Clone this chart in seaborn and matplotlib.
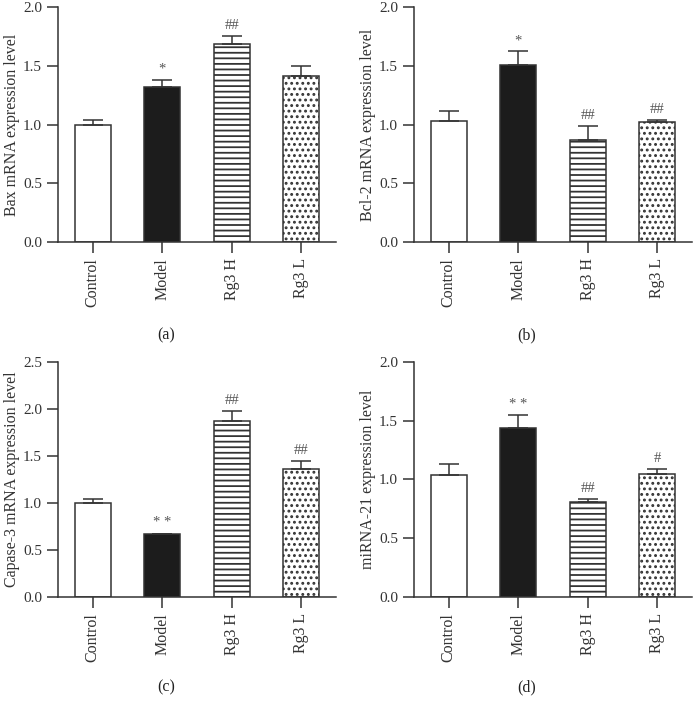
import numpy as np
import matplotlib
matplotlib.use("Agg")
import matplotlib.pyplot as plt
import seaborn as sns

# Groups shared by the four panels
groups = ["Control", "Model", "Rg3 H", "Rg3 L"]

# (a) Bax mRNA
bax_mean = [1.00, 1.315, 1.683, 1.41]
bax_err = [0.04, 0.065, 0.068, 0.09]
bax_sig = ["", "*", "##", ""]

# (b) Bcl-2 mRNA
bcl2_mean = [1.027, 1.505, 0.866, 1.018]
bcl2_err = [0.088, 0.119, 0.124, 0.023]
bcl2_sig = ["", "*", "##", "##"]

# (c) Capase-3 mRNA
casp3_mean = [1.004, 0.665, 1.874, 1.358]
casp3_err = [0.039, 0.01, 0.103, 0.088]
casp3_sig = ["", "* *", "##", "##"]

# (d) miRNA-21
mir21_mean = [1.038, 1.44, 0.809, 1.044]
mir21_err = [0.091, 0.107, 0.028, 0.048]
mir21_sig = ["", "* *", "##", "#"]

ylabels = ["Bax mRNA expression level", "Bcl-2 mRNA expression level",
           "Capase-3 mRNA expression level", "miRNA-21 expression level"]
ymaxes = [2.0, 2.0, 2.5, 2.0]
panel_tags = ["(a)", "(b)", "(c)", "(d)"]

fills = ["white", "#1c1c1c", "white", "white"]
hatches = ["", "", "---", "..."]
ink = "#333333"

sns.set_theme(style="ticks")
plt.rcParams["font.family"] = ["Liberation Serif", "DejaVu Serif"]
plt.rcParams["hatch.color"] = ink
plt.rcParams["hatch.linewidth"] = 1.3
plt.rcParams["axes.edgecolor"] = ink
plt.rcParams["xtick.color"] = ink
plt.rcParams["ytick.color"] = ink
plt.rcParams["axes.labelcolor"] = ink

fig = plt.figure(figsize=(6.93, 7.09), dpi=100)

# axes boxes [left, bottom, width, height] in figure fraction
boxes = [
    [0.0837, 0.6587, 0.4011, 0.3314],
    [0.5974, 0.6587, 0.4011, 0.3314],
    [0.0837, 0.1580, 0.4011, 0.3314],
    [0.5974, 0.1580, 0.4011, 0.3314],
]
tag_pos = [(0.240, 0.527), (0.760, 0.527), (0.240, 0.031), (0.760, 0.031)]

panels = [
    (bax_mean, bax_err, bax_sig),
    (bcl2_mean, bcl2_err, bcl2_sig),
    (casp3_mean, casp3_err, casp3_sig),
    (mir21_mean, mir21_err, mir21_sig),
]

for i, (means, errs, sigs) in enumerate(panels):
    ax = fig.add_axes(boxes[i])
    sns.barplot(x=groups, y=means, hue=groups, palette=fills, legend=False,
                width=0.52, edgecolor=ink, linewidth=1.1, saturation=1, ax=ax)
    for patch, h in zip(ax.patches, hatches):
        patch.set_hatch(h)
    xs = np.arange(len(groups))
    ax.errorbar(xs, means, yerr=[np.zeros(len(errs)), errs], fmt="none",
                ecolor=ink, elinewidth=1.1, capsize=7.5, capthick=1.1, zorder=1)
    for x, m, e, s in zip(xs, means, errs, sigs):
        if s:
            ax.text(x, m + e + 0.045 * ymaxes[i], s, ha="center", va="center",
                    fontsize=10.5, color="#555555")
    ax.set_xlim(-0.5, 3.5)
    ax.set_ylim(0, ymaxes[i])
    ax.set_yticks(np.arange(0, ymaxes[i] + 0.01, 0.5))
    ax.set_yticklabels([f"{v:.1f}" for v in np.arange(0, ymaxes[i] + 0.01, 0.5)])
    ax.set_ylabel(ylabels[i], fontsize=11.5, labelpad=2)
    ax.tick_params(axis="x", labelrotation=90, labelsize=11.5, length=8, width=1.1)
    ax.tick_params(axis="y", labelsize=11, length=8, width=1.1)
    sns.despine(ax=ax)
    for sp in ("left", "bottom"):
        ax.spines[sp].set_linewidth(1.1)
    fig.text(tag_pos[i][0], tag_pos[i][1], panel_tags[i], ha="center",
             va="center", fontsize=11.5, color="#222222")

fig.savefig("out.png", dpi=100)
